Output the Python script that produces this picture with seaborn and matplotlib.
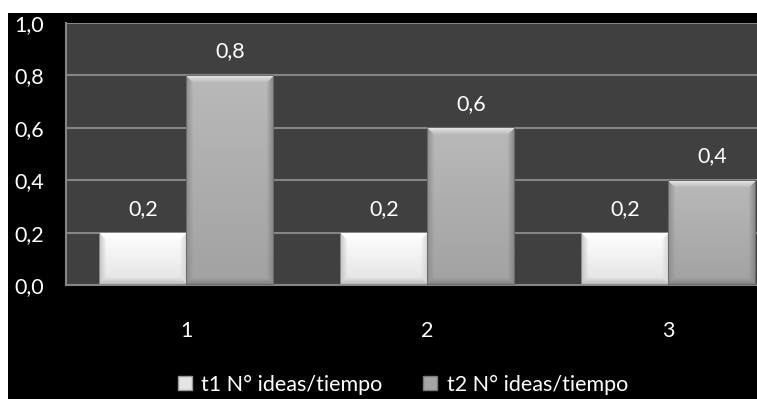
import numpy as np
import pandas as pd
import matplotlib
matplotlib.use("Agg")
import matplotlib.pyplot as plt
from matplotlib.patches import Patch, Rectangle
import seaborn as sns

# --- data ---
categories = ["1", "2", "3"]
series_names = ["t1 N° ideas/tiempo", "t2 N° ideas/tiempo"]
t1_values = [0.2, 0.2, 0.2]
t2_values = [0.8, 0.6, 0.4]
y_ticks = [0.0, 0.2, 0.4, 0.6, 0.8, 1.0]

df = pd.DataFrame({
    "cat": categories * 2,
    "serie": [series_names[0]] * 3 + [series_names[1]] * 3,
    "valor": t1_values + t2_values,
})

sns.set_style("white")
plt.rcParams["font.family"] = ["Lato", "DejaVu Sans"]
FS = 15.5

W, H = 757, 399
fig = plt.figure(figsize=(W / 100, H / 100), dpi=100)
fig.patch.set_facecolor("white")
# black chart area
fig.add_artist(Rectangle((8 / W, 0), 1, (H - 13) / H, transform=fig.transFigure,
                         facecolor="black", edgecolor="none", zorder=0))

ax = fig.add_axes([66 / W, (H - 285) / H, (789 - 66) / W, (285 - 23) / H])
ax.set_facecolor("#404040")

palette = {series_names[0]: "#efefef", series_names[1]: "#adadad"}
sns.barplot(data=df, x="cat", y="valor", hue="serie", palette=palette,
            width=0.725, gap=0, ax=ax, legend=False, edgecolor="none", zorder=3)

ax.set_ylim(0, 1.0)
ax.set_xlim(-0.5, 2.5)
ax.set_yticks(y_ticks)
ax.set_yticklabels([f"{v:.1f}".replace(".", ",") for v in y_ticks])
ax.grid(axis="y", color="#858585", lw=1.5, zorder=1)
ax.grid(axis="x", visible=False)
ax.set_axisbelow(True)
for s in ["left", "bottom"]:
    ax.spines[s].set_color("#858585")
    ax.spines[s].set_linewidth(1.5)
for s in ["top", "right"]:
    ax.spines[s].set_visible(False)
ax.tick_params(axis="y", length=0, pad=16, labelsize=FS, labelcolor="white")
ax.tick_params(axis="x", length=0, pad=26, labelsize=FS, labelcolor="white")
ax.set_xlabel("")
ax.set_ylabel("")


def bevel_image(nx, ny, top, bottom, hi, left, right, low, outline, b=7):
    """Vertical gradient fill with bevelled edges for one bar."""
    top = np.array(matplotlib.colors.to_rgb(top))
    bottom = np.array(matplotlib.colors.to_rgb(bottom))
    img = np.zeros((ny, nx, 3))
    t = np.linspace(0, 1, ny)[:, None, None]
    img[:] = top * (1 - t) + bottom * t
    ii, jj = np.mgrid[0:ny, 0:nx]
    d = np.stack([ii, ny - 1 - ii, jj, nx - 1 - jj])
    which = d.argmin(axis=0)
    dmin = d.min(axis=0)
    for k, c in enumerate([hi, low, left, right]):
        m = (which == k) & (dmin < b)
        w = (1 - dmin / b)[m][:, None]
        cc = np.array(matplotlib.colors.to_rgb(c))
        img[m] = cc * w + img[m] * (1 - w)
    img[dmin < 1] = np.array(matplotlib.colors.to_rgb(outline))
    return np.clip(img, 0, 1)


styles = {
    "#efefef": dict(top="#ffffff", bottom="#e2e2e2", hi="#ffffff", left="#c4c4c4",
                    right="#d6d6d6", low="#b8b8b8", outline="#8a8a8a"),
    "#adadad": dict(top="#b9b9b9", bottom="#a2a2a2", hi="#e8e8e8", left="#8e8e8e",
                    right="#858585", low="#808080", outline="#6a6a6a"),
}

fig.canvas.draw()
for p in ax.patches:
    fc = matplotlib.colors.to_hex(p.get_facecolor())
    st = styles.get(fc)
    if st is None:
        continue
    x0, y0, w, h = p.get_x(), p.get_y(), p.get_width(), p.get_height()
    (px0, py0), (px1, py1) = ax.transData.transform([(x0, y0), (x0 + w, y0 + h)])
    nx, ny = max(int(round(px1 - px0)), 2), max(int(round(py1 - py0)), 2)
    ax.imshow(bevel_image(nx, ny, **st), extent=(x0, x0 + w, y0, y0 + h),
              aspect="auto", interpolation="bilinear", zorder=4)
ax.set_xlim(-0.5, 2.5)
ax.set_ylim(0, 1.0)

for cont in ax.containers:
    ax.bar_label(cont, labels=[f"{v:.1f}".replace(".", ",") for v in cont.datavalues],
                 padding=10, fontsize=FS, color="white", zorder=5)

handles = [Patch(facecolor="#e4e4e4", edgecolor="#9a9a9a", label=series_names[0]),
           Patch(facecolor="#a6a6a6", edgecolor="#7a7a7a", label=series_names[1])]
fig.legend(handles=handles, loc="center", bbox_to_anchor=(403 / W, 0.036), ncol=2,
           frameon=False, fontsize=FS, labelcolor="white", handlelength=0.65,
           handleheight=0.65, handletextpad=0.45, columnspacing=1.9,
           borderpad=0.2)

fig.savefig("out.png", dpi=100, facecolor=fig.get_facecolor())
